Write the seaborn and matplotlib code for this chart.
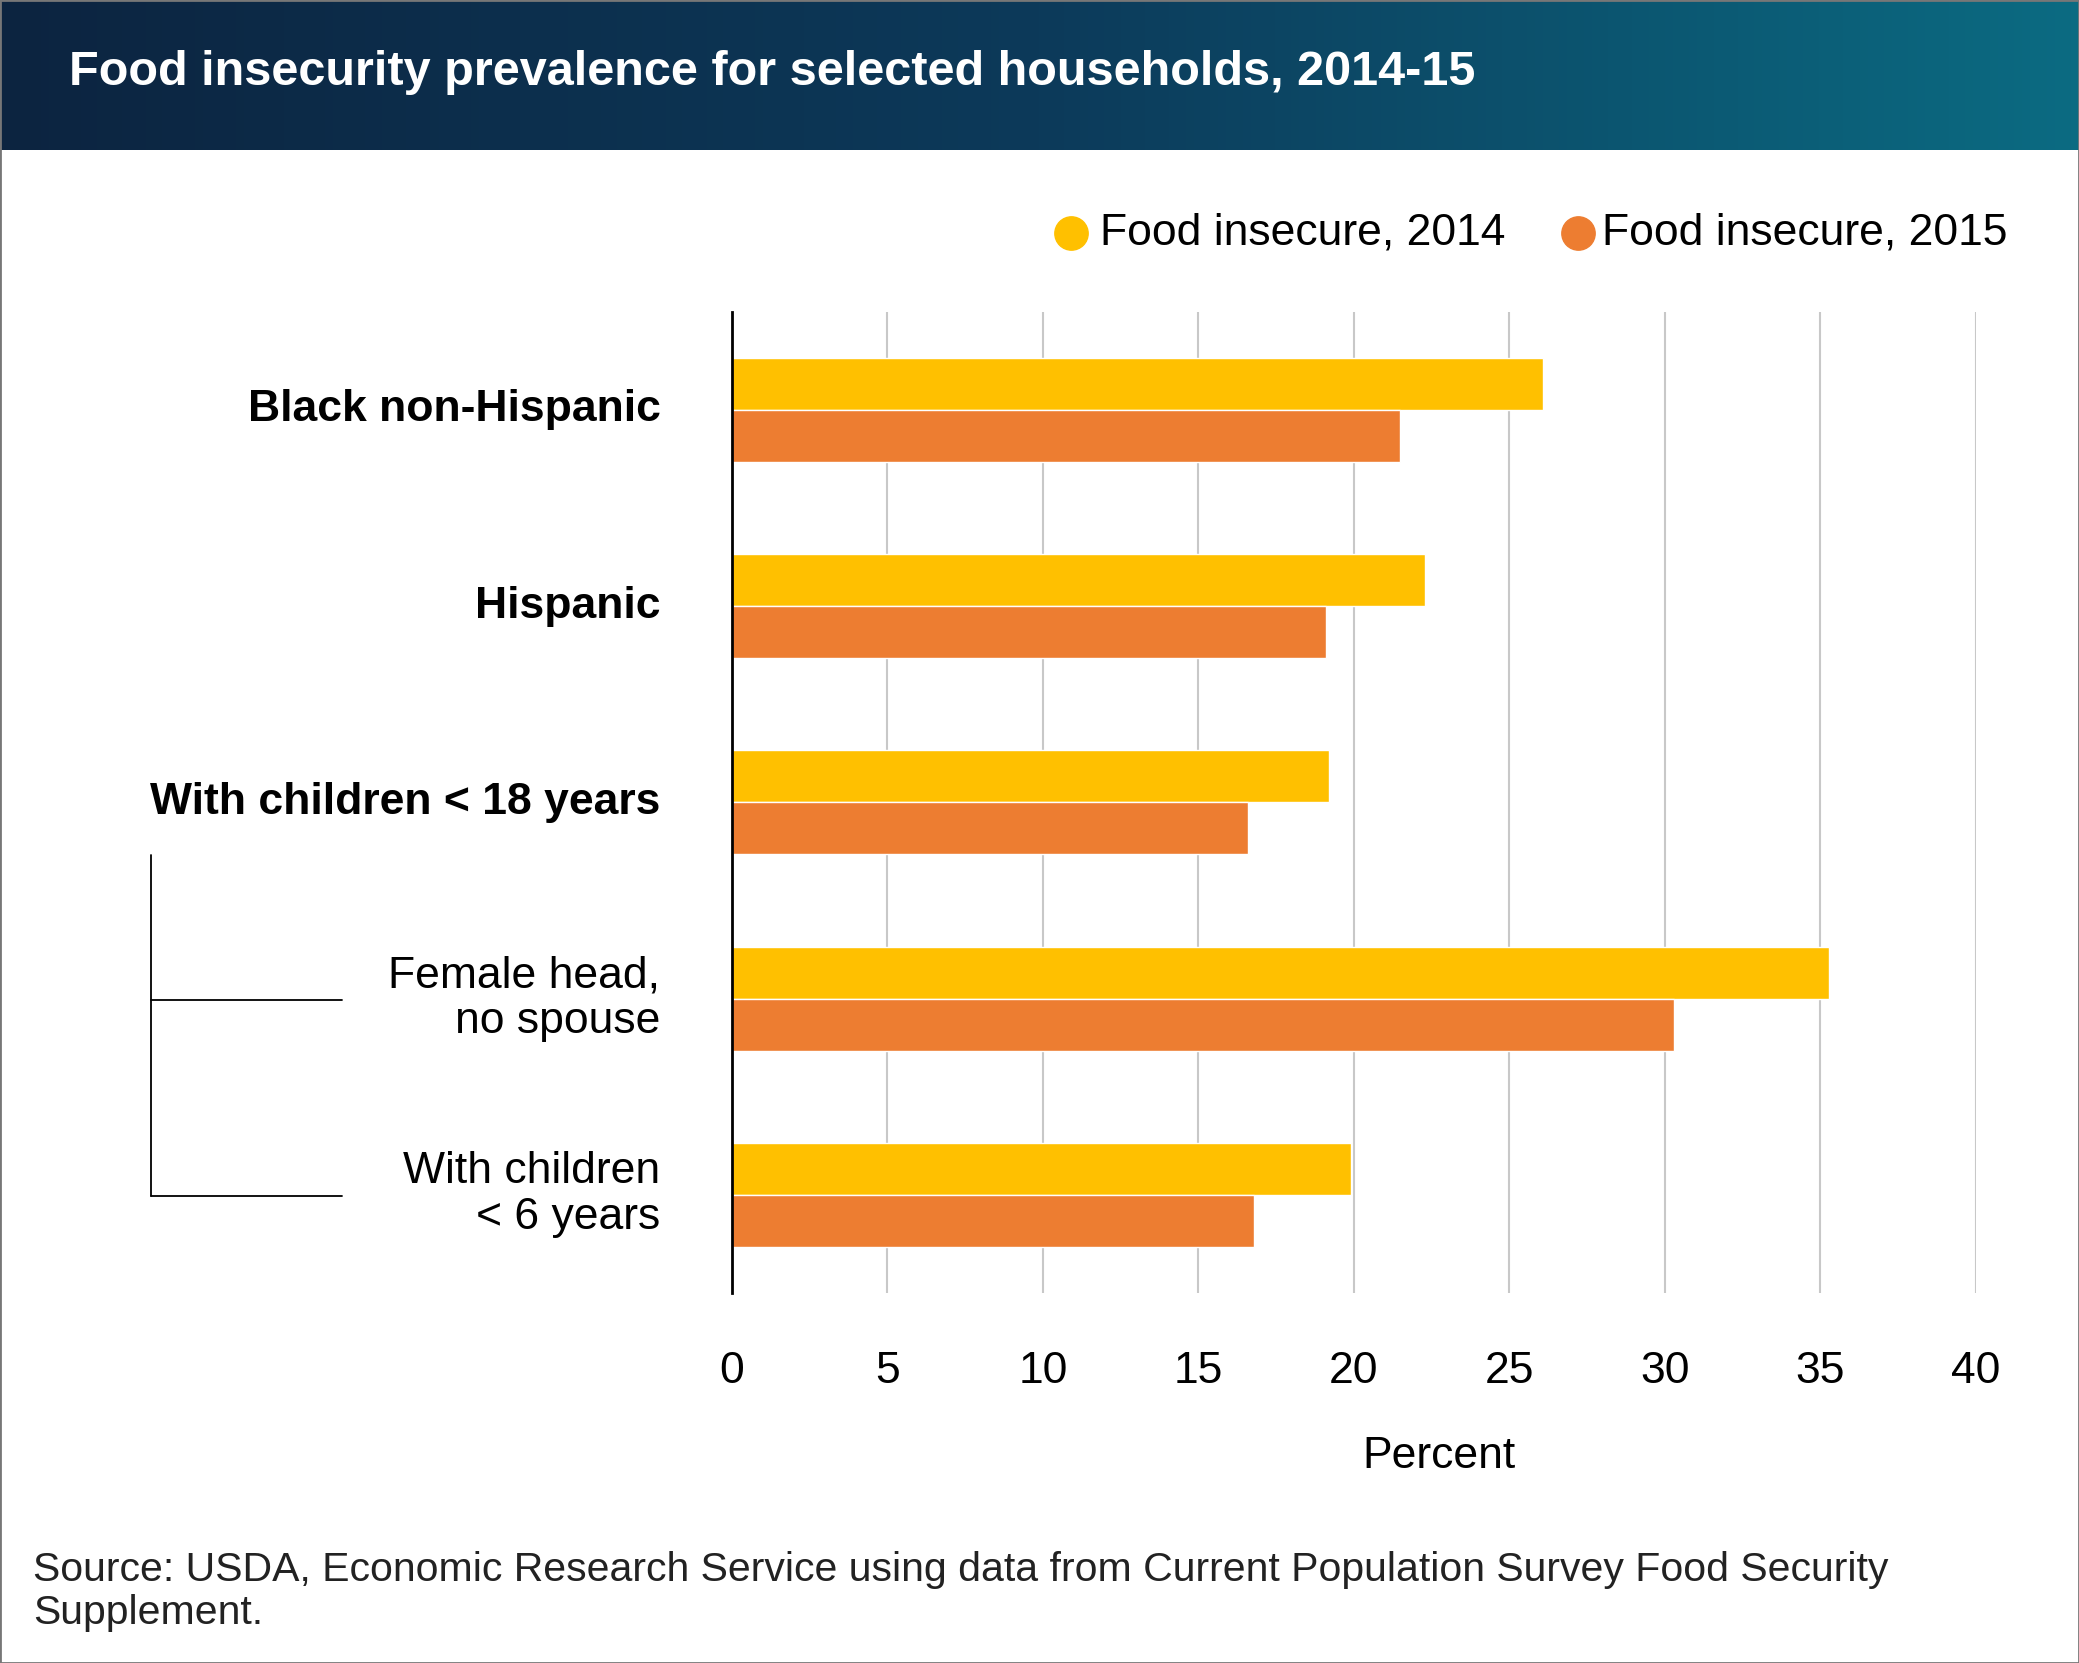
import numpy as np
import pandas as pd
import seaborn as sns
import matplotlib.pyplot as plt
from matplotlib.lines import Line2D
from matplotlib.colors import LinearSegmentedColormap

sns.set_style('white')
plt.rcParams['font.family'] = ['Liberation Sans', 'DejaVu Sans']
plt.rcParams['text.color'] = 'black'
plt.rcParams['xtick.color'] = 'black'
plt.rcParams['axes.labelcolor'] = 'black'

categories = ['Black non-Hispanic', 'Hispanic', 'With children < 18 years',
              'Female head,\nno spouse', 'With children\n< 6 years']
bold_cats = [True, True, True, False, False]
series = ['Food insecure, 2014', 'Food insecure, 2015']
val_2014 = [26.1, 22.3, 19.2, 35.3, 19.9]
val_2015 = [21.5, 19.1, 16.6, 30.3, 16.8]
colors = ['#FFC000', '#ED7D31']
xticks = [0, 5, 10, 15, 20, 25, 30, 35, 40]

df = pd.DataFrame({
    'cat': categories * 2,
    'series': [series[0]] * 5 + [series[1]] * 5,
    'value': val_2014 + val_2015,
})

W, H = 1568, 1254  # reference layout units
fig = plt.figure(figsize=(20.79, 16.63), dpi=100)

def fx(x):
    return x / W
def fy(y):
    return 1 - y / H

# header band with gradient
hax = fig.add_axes([0, 1 - 113 / H, 1, 113 / H])
cmap = LinearSegmentedColormap.from_list('hdr', ['#0c2440', '#0d3a5a', '#0b6b82'])
grad = np.linspace(0, 1, 512).reshape(1, -1)
hax.imshow(grad, aspect='auto', cmap=cmap, extent=[0, 1, 0, 1])
hax.set_axis_off()
fig.text(fx(52), fy(55), 'Food insecurity prevalence for selected households, 2014-15',
         color='white', fontsize=35, fontweight='bold', va='center', ha='left')

ax = fig.add_axes([552 / W, 1 - 975 / H, (1490 - 552) / W, (975 - 235) / H])
sns.barplot(data=df, y='cat', x='value', hue='series', orient='h',
            palette=colors, width=0.53, saturation=1, ax=ax, legend=False)
ax.set_xlim(0, 40)
ax.set_ylim(4.5, -0.5)
ax.set_xticks(xticks)
ax.set_xticklabels([str(t) for t in xticks], fontsize=32)
ax.tick_params(axis='x', length=0, pad=42)
ax.xaxis.grid(True, color='#c8c8c8', linewidth=1.5)
ax.set_axisbelow(True)
for s in ['top', 'right', 'bottom']:
    ax.spines[s].set_visible(False)
ax.spines['left'].set_color('black')
ax.spines['left'].set_linewidth(2)
ax.set_yticks([])
ax.set_ylabel('')
ax.set_xlabel('')
fig.text(fx(1085), fy(1098), 'Percent', fontsize=32, ha='center', va='center')

# category labels
for i, (c, b) in enumerate(zip(categories, bold_cats)):
    ax.text(-2.3, i, c, ha='right', va='center', fontsize=32,
            fontweight='bold' if b else 'normal', linespacing=1.15,
            transform=ax.transData, clip_on=False)

# bracket lines
fig.add_artist(Line2D([fx(114), fx(114)], [fy(645), fy(902)], color='black', lw=1.3))
fig.add_artist(Line2D([fx(114), fx(258)], [fy(754), fy(754)], color='black', lw=1.3))
fig.add_artist(Line2D([fx(114), fx(258)], [fy(902), fy(902)], color='black', lw=1.3))

# legend
for xd, xt, lab, col in [(808, 830, series[0], colors[0]), (1190, 1208, series[1], colors[1])]:
    fig.add_artist(Line2D([fx(xd)], [fy(176)], marker='o', markersize=24,
                          color=col, linestyle='none'))
    fig.text(fx(xt), fy(176), lab, fontsize=32, va='center', ha='left')

fig.text(fx(25), fy(1200), 'Source: USDA, Economic Research Service using data from Current Population Survey Food Security\nSupplement.',
         fontsize=29.5, va='center', ha='left', color='#222222', linespacing=1.15)

# frame
fig.add_artist(plt.Rectangle((0, 0), 1, 1, fill=False, edgecolor='#777777',
                             lw=2, transform=fig.transFigure))

fig.savefig('out.png', dpi=100)
